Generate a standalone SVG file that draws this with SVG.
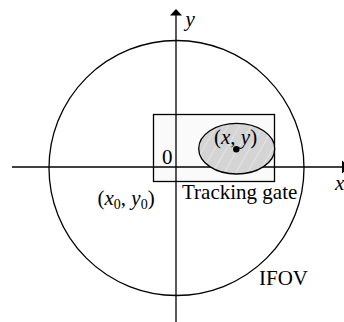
<svg xmlns="http://www.w3.org/2000/svg" width="344" height="322" viewBox="0 0 344 322">
<style>
.ln{fill:none;stroke:#000;stroke-width:1.3}
.t{font-family:"Liberation Serif","Times New Roman",serif;font-size:21px;fill:#000}
.i{font-style:italic}
</style>
<defs>
<pattern id="hatch" width="10" height="10" patternUnits="userSpaceOnUse" patternTransform="rotate(30)">
<rect width="10" height="10" fill="#d4d4d4"/>
<line x1="0" y1="0" x2="0" y2="10" stroke="#e8e8e8" stroke-width="1.6"/>
</pattern>
</defs>
<rect width="344" height="322" fill="#fff"/>
<g id="ifov">
<circle class="ln" cx="176.5" cy="168" r="127.5"/>
<text class="t" x="259" y="285">IFOV</text>
</g>
<g id="tracking-gate">
<rect x="153.5" y="114.5" width="121" height="67" fill="#fafafa" stroke="#000" stroke-width="1.3"/>
<text class="t" x="182" y="199">Tracking gate</text>
</g>
<g id="connectors">
<line class="ln" x1="12" y1="167" x2="342" y2="167"/>
<polygon points="342,160.5 349,167 342,173.5" fill="#000"/>
<line class="ln" x1="176" y1="322" x2="176" y2="15"/>
<polygon points="170,15.5 176,9 182,15.5" fill="#000"/>
</g>
<g id="target">
<ellipse cx="236.7" cy="148.7" rx="38" ry="25.3" fill="url(#hatch)" stroke="#000" stroke-width="1.3"/>
<circle cx="236.3" cy="149.3" r="3.2" fill="#000"/>
<text class="t" x="214" y="144">(<tspan class="i">x</tspan>, <tspan class="i">y</tspan>)</text>
</g>
<g id="labels">
<text class="t i" x="185.5" y="26">y</text>
<text class="t i" x="335" y="190">x</text>
<text class="t" x="162" y="164">0</text>
<text class="t" x="97.5" y="205">(<tspan class="i">x</tspan><tspan font-size="14" dy="4">0</tspan><tspan dy="-4">, </tspan><tspan class="i">y</tspan><tspan font-size="14" dy="4">0</tspan><tspan dy="-4">)</tspan></text>
</g>
</svg>
